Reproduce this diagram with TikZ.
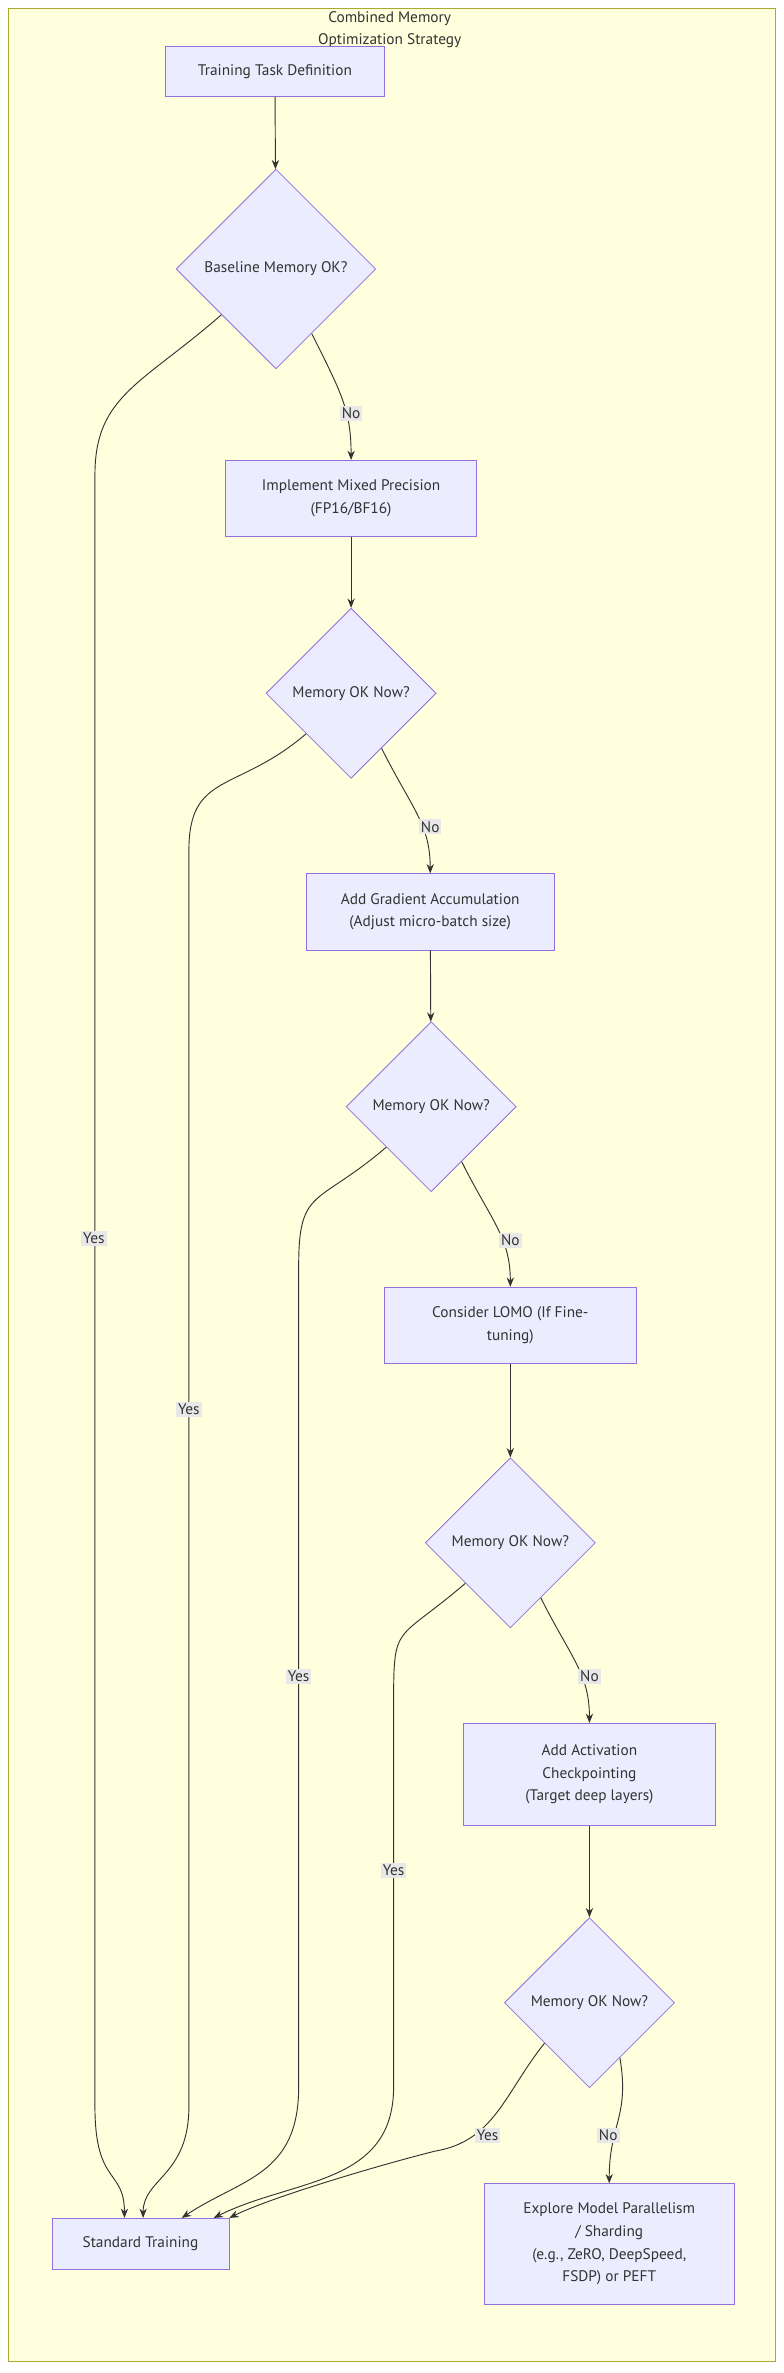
\documentclass[tikz,border=0pt]{standalone}
\usepackage{fontspec}
\setmainfont{PT Sans}
\usetikzlibrary{shapes.geometric,arrows.meta}
\definecolor{nfill}{HTML}{ECECFF}
\definecolor{nstroke}{HTML}{9370DB}
\definecolor{cfill}{HTML}{FFFFDE}
\definecolor{cstroke}{HTML}{AAAA33}
\definecolor{edge}{HTML}{333333}
\definecolor{lblbg}{HTML}{E8E8E8}
\definecolor{txt}{HTML}{333333}
\begin{document}
\begin{tikzpicture}[x=0.742pt,y=-0.742pt,
  every node/.style={font=\fontsize{11.5}{17}\selectfont, text=txt},
  boxn/.style={draw=nstroke, fill=nfill, line width=0.6pt, minimum height=#1*0.742pt, align=center, inner sep=0pt},
  decn/.style={diamond, aspect=1, draw=nstroke, fill=nfill, line width=0.6pt, minimum width=#1*0.742pt, minimum height=#1*0.742pt, inner sep=0pt, align=center},
  arr/.style={draw=edge, line width=0.7pt, -{Stealth[length=7pt,width=5.5pt]}},
  lbl/.style={fill=lblbg, inner sep=1.5pt}]
\useasboundingbox (0,0) rectangle (792.7,2399.4);
\node[draw=cstroke, fill=cfill, line width=0.6pt, minimum width=768*0.75pt, minimum height=2354*0.75pt, inner sep=0pt] (frame) at (396.3,1198) {};
\node[align=center] (title) at (394,30) {Combined Memory\\Optimization Strategy};
\node[boxn=51, minimum width=221*0.742pt] (t) at (278,72) {Training Task Definition};
\node[decn=202] (d1) at (279,272) {Baseline Memory OK?};
\node[boxn=77, minimum width=254*0.742pt] (mp) at (355,504) {Implement Mixed Precision\\(FP16/BF16)};
\node[decn=172] (d2) at (355,701) {Memory OK Now?};
\node[boxn=77, minimum width=251*0.742pt] (ga) at (435,922) {Add Gradient Accumulation\\(Adjust micro-batch size)};
\node[decn=172] (d3) at (436,1119) {Memory OK Now?};
\node[boxn=77, minimum width=254*0.742pt] (lo) at (516,1340) {Consider LOMO (If Fine-\\tuning)};
\node[decn=172] (d4) at (516,1560) {Memory OK Now?};
\node[boxn=103, minimum width=255*0.742pt] (ac) at (596,1794) {Add Activation\\Checkpointing\\(Target deep layers)};
\node[decn=172] (d5) at (596,2025) {Memory OK Now?};
\node[boxn=122, minimum width=253*0.742pt] (ex) at (616,2269) {Explore Model Parallelism\\/ Sharding\\(e.g., ZeRO, DeepSpeed,\\FSDP) or PEFT};
\node[boxn=52, minimum width=179*0.742pt] (st) at (142,2269) {Standard Training};
% main flow
\draw[arr] (t) -- (d1);
\draw[arr] (mp) -- (d2);
\draw[arr] (ga) -- (d3);
\draw[arr] (lo) -- (d4);
\draw[arr] (ac) -- (d5);
% No edges
\draw[arr] (d1.299) .. controls +(30,60) and +(0,-50) .. (mp.north);
\draw[arr] (d2.299) .. controls +(30,60) and +(0,-50) .. (ga.north);
\draw[arr] (d3.299) .. controls +(30,60) and +(0,-50) .. (lo.north);
\draw[arr] (d4.299) .. controls +(30,60) and +(0,-50) .. (ac.north);
\draw[arr] (d5.299) .. controls +(10,60) and +(0,-60) .. (ex.north);
\node[lbl] (n1) at (355,418) {No};
\node[lbl] (n2) at (435,836) {No};
\node[lbl] (n3) at (516,1254) {No};
\node[lbl] (n4) at (596,1695) {No};
\node[lbl] (n5) at (615,2159) {No};
% Yes edges
\draw[arr] (d1.220) .. controls +(-80,70) and +(0,-80) .. (96,480) -- (96,2130) .. controls +(0,80) and +(0,-50) .. ([xshift=-12pt]st.north);
\draw[arr] (d2.222) .. controls +(-70,60) and +(0,-80) .. (191,860) -- (191,2130) .. controls +(0,70) and +(0,-40) .. ([xshift=2pt]st.north);
\draw[arr] (d3.222) .. controls +(-70,60) and +(0,-80) .. (302,1280) -- (302,2110) .. controls +(0,90) and +(60,-40) .. ([xshift=31pt]st.north);
\draw[arr] (d4.222) .. controls +(-70,60) and +(0,-80) .. (398,1720) -- (398,2110) .. controls +(0,100) and +(80,-40) .. ([xshift=55pt]st.north);
\draw[arr] (d5.222) .. controls +(-40,50) and +(60,-10) .. (440,2175) .. controls +(-60,15) and +(40,-20) .. (st.north east);
\node[lbl] (y1) at (95,1252) {Yes};
\node[lbl] (y2) at (191,1425) {Yes};
\node[lbl] (y3) at (302,1695) {Yes};
\node[lbl] (y4) at (398,1891) {Yes};
\node[lbl] (y5) at (493,2159) {Yes};
\end{tikzpicture}
\end{document}
